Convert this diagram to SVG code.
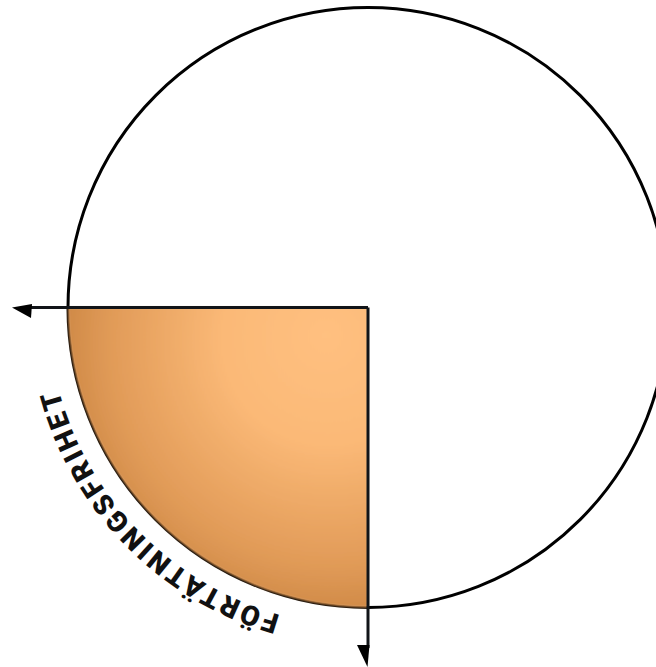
<svg xmlns="http://www.w3.org/2000/svg" width="656" height="667" viewBox="0 0 656 667">
  <defs>
    <radialGradient id="fillGrad" gradientUnits="userSpaceOnUse" cx="335" cy="345" r="300" fx="325" fy="335">
      <stop offset="0" stop-color="#FFC080"/>
      <stop offset="0.35" stop-color="#FBB977"/>
      <stop offset="0.75" stop-color="#E09A57"/>
      <stop offset="1" stop-color="#C47E3C"/>
    </radialGradient>
    <filter id="soft" x="-5%" y="-5%" width="110%" height="110%">
      <feGaussianBlur stdDeviation="0.9"/>
    </filter>
    <path id="labelArc" d="M 368 627.5 A 320 320 0 0 1 48 307.5"/>
    <style>
      .outline { fill: none; stroke: #000; stroke-width: 3; }
      .axis { fill: none; stroke: #111418; stroke-width: 3; }
      .head { fill: #000; stroke: none; }
      .label { font-family: Roboto, "Liberation Sans", sans-serif; font-weight: 900; font-size: 28px; fill: #111; }
    </style>
  </defs>

  <g id="circle">
    <circle class="outline" cx="368" cy="307.5" r="300"/>
  </g>

  <g id="quadrant">
    <path d="M 368 307.5 L 68 307.5 A 300 300 0 0 0 368 607.5 Z" fill="url(#fillGrad)" filter="url(#soft)"/>
  </g>

  <g id="connectors">
    <line class="axis" x1="368" y1="307.5" x2="28" y2="307.5"/>
    <polygon class="head" points="12,307.5 32,304 31,318"/>
    <line class="axis" x1="368" y1="307.5" x2="368" y2="648"/>
    <polygon class="head" points="357,645 369.5,645 367.5,667"/>
  </g>

  <g id="label">
    <text class="label"><textPath href="#labelArc" startOffset="89" textLength="330" lengthAdjust="spacing">FÖRTÄTNINGSFRIHET</textPath></text>
  </g>
</svg>
